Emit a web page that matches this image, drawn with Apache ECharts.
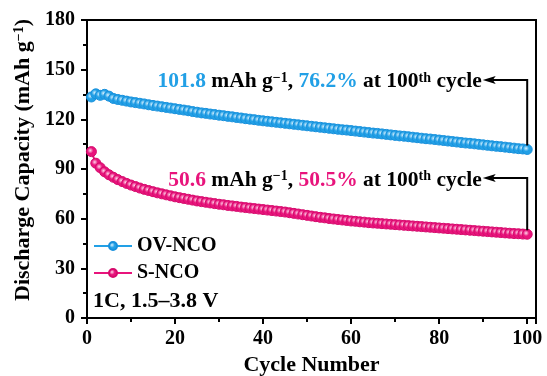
<!DOCTYPE html>
<html>
<head>
<meta charset="utf-8">
<script src="https://cdn.jsdelivr.net/npm/echarts@6/dist/echarts.min.js"></script>
<style>html,body{margin:0;padding:0;background:#fff}#c{width:547px;height:376px}</style>
</head>
<body>
<div id="c"></div>
<script>
const cycles = Array.from({length: 100}, (_, i) => i + 1);
const ovNCO = [
133.5,135.4,134.5,135.1,134.0,132.6,132.0,131.5,131.0,130.5,
130.1,129.7,129.3,128.8,128.4,128.0,127.6,127.2,126.8,126.4,
126.0,125.6,125.2,124.7,124.3,123.9,123.6,123.2,122.9,122.5,
122.2,121.8,121.5,121.1,120.8,120.4,120.1,119.8,119.4,119.1,
118.8,118.5,118.2,117.9,117.6,117.3,117.0,116.7,116.4,116.1,
115.8,115.5,115.2,114.9,114.6,114.3,114.0,113.7,113.5,113.2,
112.9,112.6,112.3,112.0,111.7,111.5,111.2,110.9,110.6,110.3,
110.0,109.8,109.5,109.2,108.9,108.6,108.3,108.1,107.8,107.5,
107.2,106.9,106.6,106.3,106.0,105.7,105.5,105.2,104.9,104.6,
104.3,104.0,103.7,103.5,103.2,102.9,102.6,102.3,102.1,101.8];
const sNCO = [
100.5,93.5,90.8,88.3,86.5,85.0,83.6,82.4,81.3,80.3,
79.4,78.5,77.7,77.0,76.3,75.6,75.0,74.4,73.8,73.2,
72.7,72.2,71.7,71.2,70.7,70.3,69.9,69.5,69.1,68.7,
68.4,68.0,67.7,67.4,67.0,66.7,66.4,66.1,65.8,65.5,
65.2,64.9,64.6,64.3,64.0,63.6,63.2,62.8,62.4,62.0,
61.6,61.2,60.8,60.5,60.1,59.8,59.5,59.2,58.9,58.6,
58.4,58.1,57.9,57.6,57.4,57.2,57.0,56.8,56.6,56.4,
56.2,56.0,55.8,55.6,55.4,55.2,55.0,54.8,54.6,54.4,
54.2,54.0,53.8,53.6,53.4,53.2,53.0,52.8,52.6,52.4,
52.2,52.0,51.8,51.6,51.4,51.2,51.0,50.9,50.7,50.6];
const seriesNames = ['OV-NCO', 'S-NCO'];
const xTicks = [0, 20, 40, 60, 80, 100];
const yTicks = [0, 30, 60, 90, 120, 150, 180];
const annoOV = {cap: '101.8', ret: '76.2%'};
const annoS = {cap: '50.6', ret: '50.5%'};

const FONT = "'Liberation Serif','Times New Roman',serif";
const BLUE = '#22a0e6', PINK = '#e8147c';
function grad(c, light) {
  return new echarts.graphic.RadialGradient(0.4, 0.4, 0.6, [
    {offset: 0, color: light}, {offset: 0.45, color: c}, {offset: 1, color: c}]);
}
const chart = echarts.init(document.getElementById('c'), null, {renderer: 'canvas'});
const axisCommon = {
  axisLine: {lineStyle: {color: '#000', width: 2}},
  axisTick: {inside: false, length: 6, lineStyle: {color: '#000', width: 2}},
  minorTick: {show: true, splitNumber: 2, length: 4, lineStyle: {color: '#000', width: 2}},
  splitLine: {show: false},
  axisLabel: {color: '#000', fontFamily: FONT, fontWeight: 'bold', fontSize: 20}
};
chart.setOption({
  animation: false,
  backgroundColor: '#fff',
  grid: {left: 87, right: 11, top: 20, bottom: 58, show: true, borderColor: '#000', borderWidth: 2,
         containLabel: false, outerBoundsMode: 'none'},
  xAxis: Object.assign({}, axisCommon, {
    type: 'value', min: 0, max: 102, interval: 20,
    axisLabel: Object.assign({}, axisCommon.axisLabel, {margin: 11,
      formatter: v => xTicks.includes(v) ? String(v) : ''}),
    name: 'Cycle Number', nameLocation: 'middle', nameGap: 31,
    nameTextStyle: {color: '#000', fontFamily: FONT, fontWeight: 'bold', fontSize: 22}
  }),
  yAxis: Object.assign({}, axisCommon, {
    type: 'value', min: 0, max: 180, interval: 30,
    axisLabel: Object.assign({}, axisCommon.axisLabel, {margin: 12,
      formatter: v => yTicks.includes(v) ? String(v) : ''}),
    name: '{a|Discharge Capacity (mAh g}{s|−1}{a|)}', nameLocation: 'middle', nameGap: 52,
    nameTextStyle: {
      padding: [0, 0, 0, 18],
      rich: {
        a: {color: '#000', fontFamily: FONT, fontWeight: 'bold', fontSize: 22},
        s: {color: '#000', fontFamily: FONT, fontWeight: 'bold', fontSize: 14, verticalAlign: 'top'}
      }
    }
  }),
  legend: {
    left: 88, top: 231, orient: 'vertical', itemGap: 7, itemWidth: 38, itemHeight: 10,
    textStyle: {color: '#000', fontFamily: FONT, fontWeight: 'bold', fontSize: 20},
    data: seriesNames
  },
  series: [
    {name: seriesNames[0], type: 'line', data: cycles.map((c, i) => [c, ovNCO[i]]),
     symbol: 'circle', symbolSize: 10, lineStyle: {color: BLUE, width: 2},
     itemStyle: {color: grad(BLUE, '#d8f1ff'), borderColor: '#1890dc', borderWidth: 1}},
    {name: seriesNames[1], type: 'line', data: cycles.map((c, i) => [c, sNCO[i]]),
     symbol: 'circle', symbolSize: 10, lineStyle: {color: PINK, width: 2},
     itemStyle: {color: grad(PINK, '#ffd6ea'), borderColor: '#d60a6c', borderWidth: 1}}
  ]
});

function px(x, y) { return chart.convertToPixel({gridIndex: 0}, [x, y]); }
function annotation(anno, color, endVal, levelVal) {
  const end = px(100, endVal);
  const lvl = px(100, levelVal);
  const tip = px(89.9, levelVal);
  const rich = {
    n: {fill: color, fontFamily: FONT, fontWeight: 'bold', fontSize: 21.5},
    k: {fill: '#000', fontFamily: FONT, fontWeight: 'bold', fontSize: 21.5},
    s: {fill: '#000', fontFamily: FONT, fontWeight: 'bold', fontSize: 14, verticalAlign: 'top'}
  };
  return [
    {type: 'polyline', z: 50, shape: {points: [[end[0], end[1] - 4], [lvl[0], lvl[1]], [tip[0] + 10, tip[1]]]},
     style: {stroke: '#000', lineWidth: 2, fill: null}},
    {type: 'polygon', z: 50, shape: {points: [[tip[0], tip[1]], [tip[0] + 13, tip[1] - 4], [tip[0] + 10, tip[1]], [tip[0] + 13, tip[1] + 4]]},
     style: {fill: '#000'}},
    {type: 'text', z: 50, x: tip[0] - 1, y: tip[1] + 2,
     style: {text: '{n|' + anno.cap + '}{k| mAh g}{s|−1}{k|, }{n|' + anno.ret + '}{k| at 100}{s|th}{k| cycle}',
       rich: rich, align: 'right', verticalAlign: 'middle'}}
  ];
}
const g = [].concat(
  annotation(annoOV, BLUE, ovNCO[99], 143.8),
  annotation(annoS, PINK, sNCO[99], 84.5),
  [{type: 'text', z: 50, left: 93, top: 290,
    style: {text: '1C, 1.5–3.8 V', fill: '#000', fontFamily: FONT, fontWeight: 'bold', fontSize: 22}}]
);
chart.setOption({graphic: g});
</script>
</body>
</html>
